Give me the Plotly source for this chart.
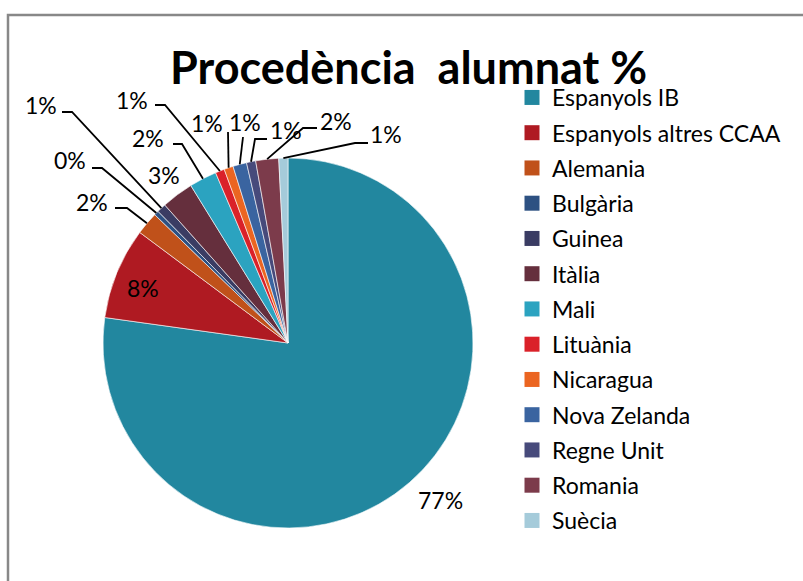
import math
import plotly.graph_objects as go

W, H = 803, 581

# ---- data ----
categories = ["Espanyols IB", "Espanyols altres CCAA", "Alemania", "Bulgària", "Guinea",
              "Itàlia", "Mali", "Lituània", "Nicaragua", "Nova Zelanda", "Regne Unit",
              "Romania", "Suècia"]
students = [193, 20, 5, 1, 2, 7, 6, 2, 2, 3, 2, 5, 2]
colors = ["#22879F", "#AF1A22", "#C0511A", "#2D5182", "#3A3C63", "#652F3D", "#2BA3C0",
          "#DA2129", "#EB6521", "#3A64A0", "#474A7B", "#7C3B4B", "#A5CBDA"]
title_text = "Procedència  alumnat %"

# ---- layout styling (pixels) ----
CX, CY, R = 288, 343, 185
FONT = "Lato, Calibri, sans-serif"
LABEL_SIZE = 23
LEGEND_SIZE = 23
# label centre, and leader-line waypoints (from text to elbow); last point is the slice edge (from data)
label_style = {
    "Espanyols IB": dict(pos=(440, 500), path=None),
    "Espanyols altres CCAA": dict(pos=(143, 288), path=None),
    "Alemania": dict(pos=(92, 202), path=[(115, 208), (127, 208)]),
    "Bulgària": dict(pos=(70, 160), path=[(92, 168), (102, 168)]),
    "Guinea": dict(pos=(41, 105), path=[(62, 112), (72, 112)]),
    "Itàlia": dict(pos=(164, 175), path=None),
    "Mali": dict(pos=(148, 138), path=[(173, 144), (182, 144)]),
    "Lituània": dict(pos=(132, 100), path=[(155, 105), (165, 105)]),
    "Nicaragua": dict(pos=(207, 123), path=[(228, 132)]),
    "Nova Zelanda": dict(pos=(245, 122), path=[(243, 137)]),
    "Regne Unit": dict(pos=(286, 130), path=[(267, 139), (255, 139)]),
    "Romania": dict(pos=(336, 121), path=[(317, 128), (303, 128)]),
    "Suècia": dict(pos=(386, 134), path=[(368, 143), (355, 143)]),
}


def px2paper(x, y):
    return x / W, 1 - y / H


fig = go.Figure()
fig.add_trace(go.Pie(
    labels=categories, values=students, sort=False, direction="clockwise", rotation=0,
    marker=dict(colors=colors, line=dict(color="white", width=0.6)),
    textinfo="none", showlegend=False, hoverinfo="label+percent",
    domain=dict(x=[(CX - R) / W, (CX + R) / W], y=[1 - (CY + R) / H, 1 - (CY - R) / H]),
))

# legend proxies
for c, col in zip(categories, colors):
    fig.add_trace(go.Scatter(
        x=[None], y=[None], mode="markers", name=c, legendgroup=c,
        marker=dict(symbol="square", size=15, color=col), showlegend=True,
    ))

total = sum(students)
annotations = []
shapes = []
cum = 0
for c, v in zip(categories, students):
    mid = (cum + v / 2) / total * 2 * math.pi
    cum += v
    pct = round(v / total * 100)
    st = label_style[c]
    lx, ly = px2paper(*st["pos"])
    annotations.append(dict(x=lx, y=ly, xref="paper", yref="paper", text=f"{pct}%",
                            showarrow=False, xanchor="center", yanchor="middle",
                            font=dict(family=FONT, size=LABEL_SIZE, color="#000000")))
    if st["path"]:
        ex = CX + R * math.sin(mid)
        ey = CY - R * math.cos(mid)
        pts = st["path"] + [(ex, ey)]
        d = ""
        for i, (x, y) in enumerate(pts):
            px, py = px2paper(x, y)
            d += ("M" if i == 0 else " L") + f" {px:.5f} {py:.5f}"
        shapes.append(dict(type="path", path=d, xref="paper", yref="paper",
                           line=dict(color="#000000", width=1.8)))

# chart frame (top and left edges)
fx0, fy0 = px2paper(8, 15)
shapes.append(dict(type="path", path=f"M {fx0:.5f} -0.05 L {fx0:.5f} {fy0:.5f} L 1.05 {fy0:.5f}",
                   xref="paper", yref="paper", line=dict(color="#888888", width=2.5)))

tx, ty = px2paper(408, 67)
annotations.append(dict(x=tx, y=ty, xref="paper", yref="paper", text=f"<b>{title_text}</b>",
                        showarrow=False, xanchor="center", yanchor="middle",
                        font=dict(family=FONT, size=45, color="#000000")))

gap = 35.25 - (LEGEND_SIZE * 1.3 + 3)
lgx, lgy = px2paper(512, 76)
fig.update_layout(
    width=W, height=H, margin=dict(l=0, r=0, t=0, b=0),
    paper_bgcolor="white", plot_bgcolor="white",
    xaxis=dict(visible=False), yaxis=dict(visible=False),
    annotations=annotations, shapes=shapes,
    legend=dict(x=lgx, y=lgy, xanchor="left", yanchor="top", tracegroupgap=gap,
                font=dict(family=FONT, size=LEGEND_SIZE, color="#000000"), bgcolor="rgba(0,0,0,0)",
                itemclick=False),
    showlegend=True,
)

fig.write_html("out.html")
